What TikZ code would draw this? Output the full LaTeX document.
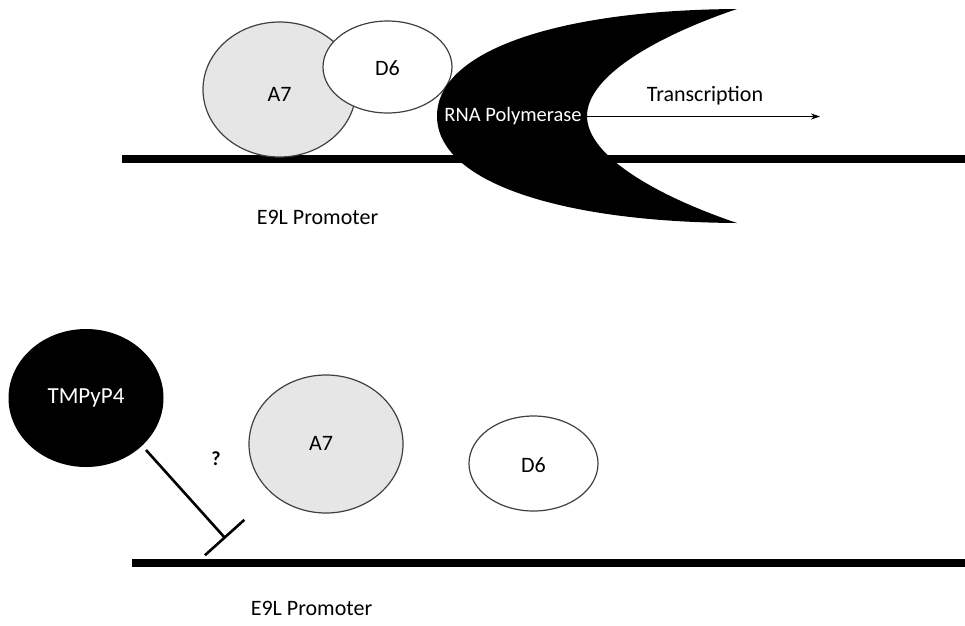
\documentclass[tikz,border=0pt]{standalone}
\usepackage{fontspec}
\setmainfont{Carlito}
\usetikzlibrary{shapes.geometric,arrows.meta}
\definecolor{outl}{HTML}{404040}
\definecolor{lgray}{HTML}{E6E6E6}
\tikzset{
  dna/.style={line width=8pt},
  prot/.style={ellipse, draw=outl, line width=1.2pt, inner sep=0pt},
  lbl/.style={font=\fontsize{22}{26}\selectfont, inner sep=0pt},
  wlbl/.style={font=\fontsize{20.5}{24}\selectfont, text=white, inner sep=0pt},
}
\begin{document}
\begin{tikzpicture}[x=1pt,y=-1pt]
\useasboundingbox[fill=white] (0,0) rectangle (965,625);
% ---------- top panel ----------
\coordinate (dnaA1) at (122,159);
\coordinate (dnaA2) at (965,159);
\draw[dna] (dnaA1) -- (dnaA2);
\node[prot, fill=lgray, minimum width=153pt, minimum height=135pt,
      label={[lbl, yshift=-5pt]center:A7}] (a7t) at (279.5,89.5) {};
\node[prot, fill=white, minimum width=129pt, minimum height=92pt,
      label={[lbl, yshift=-1pt]center:D6}] (d6t) at (387.5,67) {};
\fill[black] (737,9) .. controls (560,10) and (437,50) .. (437,116)
   .. controls (437,182) and (560,222) .. (737,223)
   .. controls (660,197) and (587,157) .. (587,116)
   .. controls (587,75) and (660,35) .. (737,9) -- cycle;
\node[wlbl] (rnap) at (513,116.5) {RNA Polymerase};
\coordinate (txend) at (820,116.5);
\draw[line width=1.3pt, -{Stealth[length=9pt, width=6pt]}] (rnap.east) -- (txend);
\node[lbl] (trans) at (705,96) {Transcription};
\node[lbl] (promT) at (317.5,217) {E9L Promoter};
% ---------- bottom panel ----------
\coordinate (dnaB1) at (132,563);
\coordinate (dnaB2) at (965,563);
\draw[dna] (dnaB1) -- (dnaB2);
\node[ellipse, fill=black, minimum width=155pt, minimum height=138pt, inner sep=0pt,
      label={[wlbl, font=\fontsize{23}{26}\selectfont, yshift=0pt]center:TMPyP4}] (tmp) at (86,398) {};
\node[prot, fill=lgray, minimum width=154pt, minimum height=138pt,
      label={[lbl, xshift=-5pt, yshift=1pt]center:A7}] (a7b) at (326,444) {};
\node[prot, fill=white, minimum width=129pt, minimum height=95pt,
      label={[lbl, yshift=-1.5pt]center:D6}] (d6b) at (533.5,463.5) {};
\node[font=\bfseries\fontsize{20}{24}\selectfont, inner sep=0pt] (q) at (216,459) {?};
\coordinate (inhS) at (146,450);
\coordinate (inhE) at (225.5,538.5);
\draw[line width=2.6pt, -{Bar[width=53pt, line width=2.6pt]}] (inhS) -- (inhE);
\node[lbl] (promB) at (311.5,608) {E9L Promoter};
\end{tikzpicture}
\end{document}
